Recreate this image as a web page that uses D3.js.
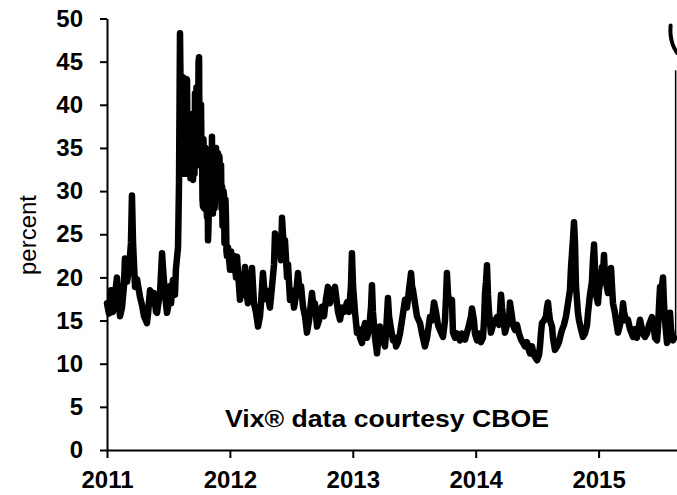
<!DOCTYPE html>
<html>
<head>
<meta charset="utf-8">
<script src="https://cdn.jsdelivr.net/npm/d3@7/dist/d3.min.js"></script>
<style>
  html, body { margin: 0; padding: 0; background: #fff; }
  svg { display: block; }
</style>
</head>
<body>
<svg id="chart" width="677" height="495"></svg>
<script>
// ---- data (decimal years, VIX level in percent) ----
const years = [
2011.000,2011.016,2011.033,2011.049,2011.065,2011.081,2011.098,2011.106,2011.122,2011.138,
2011.146,2011.163,2011.179,2011.195,2011.203,2011.212,2011.228,2011.244,2011.269,2011.285,
2011.301,2011.317,2011.325,2011.334,2011.350,2011.366,2011.382,2011.399,2011.407,2011.423,
2011.431,2011.448,2011.456,2011.472,2011.488,2011.496,2011.513,2011.521,2011.537,2011.553,
2011.561,2011.578,2011.586,2011.594,2011.602,2011.610,2011.618,2011.627,2011.635,2011.643,
2011.651,2011.659,2011.667,2011.675,2011.683,2011.692,2011.700,2011.708,2011.716,2011.724,
2011.732,2011.740,2011.749,2011.757,2011.765,2011.773,2011.781,2011.789,2011.797,2011.806,
2011.814,2011.822,2011.830,2011.838,2011.846,2011.854,2011.862,2011.871,2011.879,2011.887,
2011.903,2011.911,2011.919,2011.936,2011.944,2011.952,2011.960,2011.968,2011.976,2011.985,
2012.001,2012.009,2012.017,2012.033,2012.050,2012.058,2012.074,2012.082,2012.098,2012.107,
2012.123,2012.131,2012.147,2012.164,2012.180,2012.196,2012.212,2012.229,2012.245,2012.253,
2012.269,2012.286,2012.294,2012.310,2012.326,2012.343,2012.359,2012.367,2012.383,2012.400,
2012.416,2012.424,2012.440,2012.448,2012.465,2012.473,2012.489,2012.505,2012.522,2012.538,
2012.554,2012.570,2012.579,2012.595,2012.611,2012.627,2012.644,2012.652,2012.668,2012.684,
2012.692,2012.709,2012.725,2012.733,2012.749,2012.766,2012.782,2012.798,2012.814,2012.831,
2012.855,2012.871,2012.880,2012.896,2012.912,2012.928,2012.953,2012.969,2012.985,2012.993,
2013.002,2013.018,2013.034,2013.050,2013.059,2013.075,2013.083,2013.099,2013.116,2013.132,
2013.148,2013.156,2013.164,2013.181,2013.197,2013.205,2013.221,2013.238,2013.262,2013.270,
2013.286,2013.295,2013.311,2013.327,2013.343,2013.352,2013.368,2013.384,2013.400,2013.425,
2013.441,2013.457,2013.474,2013.482,2013.490,2013.506,2013.522,2013.547,2013.563,2013.587,
2013.604,2013.628,2013.644,2013.661,2013.677,2013.693,2013.709,2013.734,2013.750,2013.758,
2013.766,2013.775,2013.791,2013.807,2013.815,2013.832,2013.848,2013.872,2013.889,2013.913,
2013.929,2013.946,2013.962,2013.970,2013.986,2013.994,2014.011,2014.027,2014.043,2014.059,
2014.068,2014.076,2014.084,2014.092,2014.100,2014.108,2014.124,2014.141,2014.157,2014.173,
2014.190,2014.198,2014.206,2014.214,2014.230,2014.238,2014.255,2014.271,2014.279,2014.295,
2014.303,2014.320,2014.336,2014.352,2014.369,2014.385,2014.401,2014.417,2014.434,2014.442,
2014.458,2014.474,2014.491,2014.499,2014.515,2014.523,2014.531,2014.539,2014.556,2014.572,
2014.580,2014.588,2014.596,2014.605,2014.621,2014.629,2014.645,2014.662,2014.678,2014.694,
2014.702,2014.718,2014.735,2014.751,2014.767,2014.775,2014.792,2014.800,2014.808,2014.816,
2014.832,2014.841,2014.857,2014.873,2014.889,2014.906,2014.914,2014.930,2014.946,2014.954,
2014.963,2014.971,2014.979,2014.995,2015.003,2015.020,2015.028,2015.036,2015.044,2015.052,
2015.060,2015.076,2015.085,2015.093,2015.101,2015.109,2015.117,2015.133,2015.142,2015.158,
2015.174,2015.190,2015.199,2015.207,2015.223,2015.239,2015.256,2015.280,2015.296,2015.312,
2015.337,2015.353,2015.361,2015.378,2015.394,2015.410,2015.434,2015.451,2015.459,2015.475,
2015.483,2015.491,2015.500,2015.508,2015.516,2015.524,2015.532,2015.540,2015.557,2015.565,
2015.581,2015.589,2015.605,2015.614
];
const vix = [
17.0,15.8,18.5,16.0,18.0,20.0,17.0,15.5,16.5,19.0,
22.2,19.5,21.0,24.0,29.5,24.0,18.9,19.8,17.7,16.8,
15.5,15.0,14.7,15.8,18.5,17.0,18.2,16.0,15.9,17.5,
18.0,22.8,21.0,18.0,15.9,16.5,19.0,17.0,19.7,18.0,
21.0,23.5,31.0,48.3,43.0,32.0,43.2,33.0,42.5,32.0,
42.9,33.0,39.0,38.6,32.0,36.0,31.3,38.0,41.3,34.0,
42.0,36.0,45.5,38.0,40.0,35.1,28.2,33.0,29.0,32.0,
27.0,24.3,30.0,33.0,31.0,36.3,27.4,33.0,29.0,35.0,
34.4,29.0,32.0,30.5,27.0,29.5,26.0,27.0,22.5,23.5,
20.9,23.0,20.9,22.5,20.0,22.4,19.0,17.4,19.0,18.0,
21.2,18.5,17.0,18.5,21.1,17.0,16.0,14.3,15.5,17.0,
20.5,17.5,18.5,17.7,16.5,19.0,21.5,25.1,23.0,24.5,
22.0,26.9,23.0,24.3,20.0,21.5,17.4,18.5,16.5,18.0,
20.5,18.0,19.0,16.6,15.5,13.6,15.0,16.0,18.2,16.0,
17.0,14.3,15.0,16.0,16.6,15.5,17.5,18.9,17.0,18.0,
18.9,17.0,16.0,15.1,16.5,16.0,17.1,16.0,19.0,22.8,
19.0,16.0,13.6,14.0,13.0,12.4,13.5,14.7,13.0,14.0,
16.5,19.1,16.0,13.0,11.2,12.5,14.3,13.0,12.0,13.5,
17.6,15.5,14.0,12.7,13.0,12.0,12.5,13.5,15.0,17.4,
16.5,18.5,20.5,19.0,18.5,17.0,15.5,14.7,13.5,12.0,
13.0,15.4,15.0,17.1,16.0,14.5,13.9,13.1,15.0,17.5,
20.5,18.0,17.0,17.4,13.6,13.0,13.5,12.7,13.5,12.8,
13.6,14.5,15.5,16.4,15.0,13.5,12.7,13.5,12.5,13.0,
15.0,18.2,19.5,21.4,18.0,16.0,13.6,14.5,15.0,15.4,
14.5,16.0,18.0,16.5,14.5,13.6,14.5,15.0,17.1,15.5,
14.5,13.9,14.5,13.5,12.8,12.4,12.0,12.5,11.5,11.2,
12.0,11.0,10.6,10.4,11.0,12.0,13.5,14.7,15.0,15.5,
16.5,17.1,16.0,15.0,14.3,13.0,11.6,12.0,12.5,13.5,
13.9,14.5,15.5,17.0,18.5,21.0,24.5,26.4,24.0,19.0,
15.9,15.0,14.0,13.1,13.5,14.5,15.9,18.0,19.5,22.0,
23.8,21.0,18.0,17.0,18.5,20.0,21.2,20.5,22.6,20.0,
19.5,18.2,19.0,20.0,21.1,19.0,17.0,15.9,15.0,13.6,
14.5,15.5,17.0,16.0,15.0,15.1,14.0,13.1,14.0,13.0,
15.1,14.0,13.5,13.1,13.5,14.5,15.4,14.0,13.0,12.7,
14.0,16.5,18.9,17.5,19.0,20.0,17.0,15.0,12.4,13.0,
15.9,14.0,12.7,13.0
];
// extra daily swings during the Aug-Dec 2011 turmoil
const turmoilYears = [
2011.598,2011.606,2011.614,2011.622,2011.631,2011.639,2011.647,2011.655,2011.663,2011.671,
2011.679,2011.688,2011.696,2011.704,2011.712,2011.720,2011.728,2011.736,2011.745,2011.753,
2011.761,2011.769,2011.777,2011.785,2011.793,2011.801,2011.810,2011.818,2011.826,2011.834,
2011.842,2011.850,2011.858,2011.867,2011.875,2011.883,2011.891,2011.895,2011.899,2011.907,
2011.915,2011.924,2011.928,2011.932,2011.940,2011.948,2011.956,2011.964,2011.972
];
const turmoilVix = [
43.0,32.0,43.0,32.0,43.0,32.0,43.0,32.0,39.0,32.0,
31.5,38.5,31.5,38.0,32.0,33.0,42.0,33.0,45.0,35.0,
33.0,34.0,29.0,36.0,28.0,35.0,28.0,32.0,26.0,28.0,
29.0,28.0,30.0,35.0,28.0,34.0,29.0,30.0,34.0,30.0,
34.0,29.0,33.0,28.0,26.0,30.0,24.0,29.0,23.0
];
// August 2015 spike at the clipped right edge
const spikeYears = [2015.627, 2015.627];
const spikeVix   = [12.7, 44.0];
const peakYears  = [2015.586, 2015.582, 2015.600, 2015.639];
const peakVix    = [49.2, 48.2, 46.9, 46.0];

const yTicks = [0, 5, 10, 15, 20, 25, 30, 35, 40, 45, 50];
const xTicks = [2011, 2012, 2013, 2014, 2015];
const yLabel = "percent";
const note = "Vix® data courtesy CBOE";

// ---- drawing ----
const svg = d3.select("#chart");
svg.append("rect").attr("width", 677).attr("height", 495).attr("fill", "#fff");

const x = d3.scaleLinear().domain([2011, 2015.638]).range([107, 677]);
const y = d3.scaleLinear().domain([0, 50]).range([450, 18.5]);

const font = "'Liberation Sans', Arial, Helvetica, sans-serif";

// y axis
const yAxis = svg.append("g")
  .attr("transform", "translate(107,0)")
  .call(d3.axisLeft(y).tickValues(yTicks).tickSize(7).tickSizeOuter(0).tickPadding(17));
// x axis
const xAxis = svg.append("g")
  .attr("transform", "translate(0,450)")
  .call(d3.axisBottom(x).tickValues(xTicks).tickFormat(d3.format("d"))
        .tickSize(8).tickSizeOuter(0).tickPadding(13));

[yAxis, xAxis].forEach(g => {
  g.select(".domain").attr("stroke", "#000").attr("stroke-width", 2);
  g.selectAll(".tick line").attr("stroke", "#000").attr("stroke-width", 2);
  g.selectAll(".tick text")
    .attr("fill", "#000")
    .style("font-family", font)
    .style("font-weight", "bold")
    .style("font-size", "24px");
});

// data line
const line = d3.line().x(d => x(d[0])).y(d => y(d[1]));
const pts = years.map((t, i) => [t, vix[i]])
  .concat(turmoilYears.map((t, i) => [t, turmoilVix[i]]))
  .sort((a, b) => a[0] - b[0]);
svg.append("path")
  .datum(pts)
  .attr("d", line)
  .attr("fill", "none")
  .attr("stroke", "#000")
  .attr("stroke-width", 6.5)
  .attr("stroke-linejoin", "round")
  .attr("stroke-linecap", "round");

svg.append("path")
  .datum(spikeYears.map((t, i) => [t, spikeVix[i]]))
  .attr("d", line)
  .attr("fill", "none")
  .attr("stroke", "#000")
  .attr("stroke-width", 1.5);

svg.append("path")
  .datum(peakYears.map((t, i) => [t, peakVix[i]]))
  .attr("d", d3.line().x(d => x(d[0])).y(d => y(d[1])).curve(d3.curveBasis))
  .attr("fill", "none")
  .attr("stroke", "#000")
  .attr("stroke-width", 4)
  .attr("stroke-linecap", "round");

// y label
svg.append("text")
  .attr("transform", "translate(36,235) rotate(-90)")
  .attr("text-anchor", "middle")
  .style("font-family", font)
  .style("font-size", "24px")
  .attr("fill", "#000")
  .text(yLabel);

// source note
svg.append("text")
  .attr("x", 225)
  .attr("y", 427)
  .attr("textLength", 324)
  .attr("lengthAdjust", "spacingAndGlyphs")
  .style("font-family", font)
  .style("font-weight", "bold")
  .style("font-size", "24px")
  .attr("fill", "#000")
  .text(note);
</script>
</body>
</html>
